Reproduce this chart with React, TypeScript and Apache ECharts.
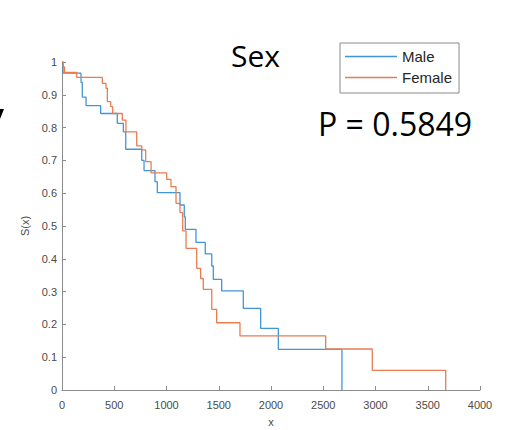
import React, { useEffect, useRef } from "react";
import * as echarts from "echarts";

const maleX = [0, 10, 182, 194, 230, 370, 529, 587, 610, 763, 785, 890, 912, 1129, 1170, 1180, 1282, 1371, 1433, 1448, 1528, 1735, 1901, 2070, 2679];
const maleS = [1, 0.966, 0.938, 0.893, 0.867, 0.843, 0.813, 0.787, 0.734, 0.7, 0.669, 0.635, 0.602, 0.564, 0.528, 0.49, 0.45, 0.415, 0.378, 0.337, 0.302, 0.249, 0.188, 0.124, 0];

const femaleX = [0, 12, 24, 141, 386, 421, 434, 466, 485, 577, 612, 715, 763, 801, 852, 1002, 1043, 1091, 1129, 1155, 1187, 1289, 1327, 1352, 1433, 1480, 1703, 2523, 2969, 3672];
const femaleS = [1, 0.985, 0.968, 0.953, 0.935, 0.92, 0.879, 0.864, 0.843, 0.823, 0.787, 0.744, 0.732, 0.696, 0.662, 0.642, 0.62, 0.569, 0.541, 0.485, 0.432, 0.371, 0.34, 0.307, 0.246, 0.205, 0.165, 0.125, 0.06, 0];

const seriesNames = ["Male", "Female"];
const titleText = "Sex";
const pText = "P = 0.5849";

export default function App() {
  const ref = useRef<HTMLDivElement>(null);
  useEffect(() => {
    const chart = echarts.init(ref.current!, null, { renderer: "svg" });
    const axisColor = "#8c8c8c";
    const labelColor = "#4a4a4a";
    chart.setOption({
      animation: false,
      backgroundColor: "#ffffff",
      grid: { left: 62, right: 30, top: 62, bottom: 40, containLabel: false, outerBoundsMode: "none" },
      legend: {
        orient: "vertical",
        left: 340,
        top: 43,
        padding: [6, 7, 8, 5],
        itemGap: 6,
        itemWidth: 52,
        itemHeight: 1.5,
        icon: "rect",
        borderColor: "#8a8a8a",
        borderWidth: 1,
        backgroundColor: "#ffffff",
        textStyle: { fontFamily: "Liberation Sans, Arial", fontSize: 15, color: "#262626", lineHeight: 15 },
        data: seriesNames,
      },
      xAxis: {
        type: "value",
        min: 0,
        max: 4000,
        interval: 500,
        name: "x",
        nameLocation: "middle",
        nameGap: 26,
        nameTextStyle: { fontFamily: "Liberation Sans, Arial", fontSize: 11, color: labelColor },
        axisLine: { show: true, lineStyle: { color: axisColor, width: 1 } },
        axisTick: { show: true, inside: true, length: 4, lineStyle: { color: axisColor } },
        axisLabel: {
          fontFamily: "Liberation Sans, Arial",
          fontSize: 11,
          color: labelColor,
          margin: 9,
          formatter: (v: number) => String(v),
        },
        splitLine: { show: false },
      },
      yAxis: {
        type: "value",
        min: 0,
        max: 1,
        interval: 0.1,
        name: "S(x)",
        nameLocation: "middle",
        nameGap: 29,
        nameRotate: 90,
        nameTextStyle: { fontFamily: "Liberation Sans, Arial", fontSize: 11, color: labelColor },
        axisLine: { show: true, lineStyle: { color: axisColor, width: 1 } },
        axisTick: { show: true, inside: true, length: 4, lineStyle: { color: axisColor } },
        axisLabel: {
          fontFamily: "Liberation Sans, Arial",
          fontSize: 11,
          color: labelColor,
          margin: 5,
          formatter: (v: number) => String(Math.round(v * 10) / 10),
        },
        splitLine: { show: false },
      },
      series: [
        {
          name: seriesNames[0],
          type: "line",
          step: "end",
          symbol: "none",
          data: maleX.map((x, i) => [x, maleS[i]]),
          lineStyle: { color: "#4196d6", width: 1.3 },
          itemStyle: { color: "#4196d6" },
        },
        {
          name: seriesNames[1],
          type: "line",
          step: "end",
          symbol: "none",
          data: femaleX.map((x, i) => [x, femaleS[i]]),
          lineStyle: { color: "#e87d52", width: 1.3 },
          itemStyle: { color: "#e87d52" },
        },
      ],
      graphic: [
        {
          type: "text",
          left: 231,
          top: 40,
          style: { text: titleText, font: "30px 'Open Sans'", fill: "#000000" },
        },
        {
          type: "text",
          left: 318,
          top: 107,
          style: { text: pText, font: "32px 'Open Sans'", fill: "#000000" },
        },
        {
          type: "polygon",
          shape: { points: [[0, 109], [4, 109], [0, 119]] },
          style: { fill: "#000000" },
        },
      ],
    });
    return () => chart.dispose();
  }, []);
  return <div ref={ref} style={{ width: 510, height: 430, position: "absolute", left: 0, top: 0 }} />;
}
